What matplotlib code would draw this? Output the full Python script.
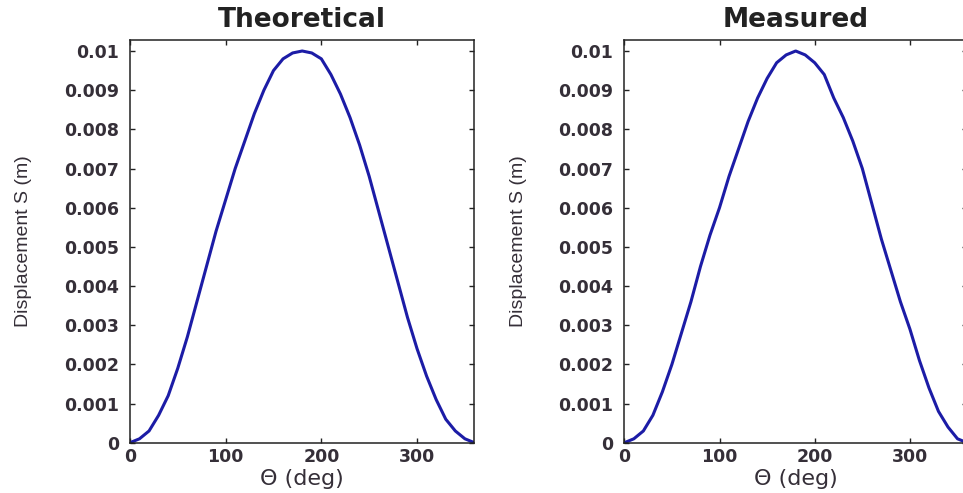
import matplotlib
matplotlib.use('Agg')
import matplotlib.pyplot as plt

# cam angle (deg) and follower displacement (m)
theta = [0, 10, 20, 30, 40, 50, 60, 70, 80, 90, 100, 110, 120, 130, 140, 150, 160, 170, 180,
         190, 200, 210, 220, 230, 240, 250, 260, 270, 280, 290, 300, 310, 320, 330, 340, 350, 360]

s_theory = [0, 0.0001, 0.0003, 0.0007, 0.0012, 0.0019, 0.0027, 0.0036, 0.0045, 0.0054,
            0.0062, 0.0070, 0.0077, 0.0084, 0.0090, 0.0095, 0.0098, 0.00995, 0.01,
            0.00995, 0.0098, 0.0094, 0.0089, 0.0083, 0.0076, 0.0068, 0.0059, 0.0050,
            0.0041, 0.0032, 0.0024, 0.0017, 0.0011, 0.0006, 0.0003, 0.0001, 0]

s_measured = [0, 0.0001, 0.0003, 0.0007, 0.0013, 0.002, 0.0028, 0.0036, 0.0045, 0.0053,
              0.0060, 0.0068, 0.0075, 0.0082, 0.0088, 0.0093, 0.0097, 0.0099, 0.01,
              0.0099, 0.0097, 0.0094, 0.0088, 0.0083, 0.0077, 0.0070, 0.0061, 0.0052,
              0.0044, 0.0036, 0.0029, 0.0021, 0.0014, 0.0008, 0.0004, 0.0001, 0]

xticks = [0, 100, 200, 300]
yticks = [0, 0.001, 0.002, 0.003, 0.004, 0.005, 0.006, 0.007, 0.008, 0.009, 0.01]
ytick_labels = ['0', '0.001', '0.002', '0.003', '0.004', '0.005', '0.006', '0.007',
                '0.008', '0.009', '0.01']

line_color = '#1c1ca6'
text_color = '#352f38'

fig = plt.figure(figsize=(9.63, 4.93), dpi=100)
fig.patch.set_facecolor('white')

ax1 = fig.add_axes([0.1349, 0.1020, 0.3578, 0.8168])
ax2 = fig.add_axes([0.6483, 0.1020, 0.3559, 0.8168])

panels = [(ax1, s_theory, 'Theoretical'), (ax2, s_measured, 'Measured')]

for ax, s, name in panels:
    ax.plot(theta, s, color=line_color, lw=2.2, solid_joinstyle='round')
    ax.set_xlim(0, 360)
    ax.set_ylim(0, 0.01028)
    ax.set_xticks(xticks)
    ax.set_xticklabels([str(t) for t in xticks])
    ax.set_yticks(yticks)
    ax.set_yticklabels(ytick_labels)
    ax.tick_params(direction='in', length=3.5, width=1, top=True, right=True,
                   labelsize=12.5, labelcolor=text_color, color='#222222')
    ax.tick_params(axis='y', pad=8)
    ax.tick_params(axis='x', pad=4)
    for lab in ax.get_xticklabels() + ax.get_yticklabels():
        lab.set_fontweight('bold')
        lab.set_family('DejaVu Sans')
    for sp in ax.spines.values():
        sp.set_linewidth(1.1)
        sp.set_color('#222222')
    ax.set_title(name, fontsize=19, fontweight='bold', color='#222222',
                 family='DejaVu Sans', pad=9.5)
    ax.set_xlabel('\u0398 (deg)', fontsize=16, color=text_color,
                  family='DejaVu Sans', labelpad=2)
    ax.set_ylabel('Displacement S (m)', fontsize=14, color=text_color,
                  family=['Liberation Sans', 'DejaVu Sans'])
    ax.yaxis.set_label_coords(-0.284, 0.5)

fig.savefig('out.png', dpi=100, facecolor='white')
